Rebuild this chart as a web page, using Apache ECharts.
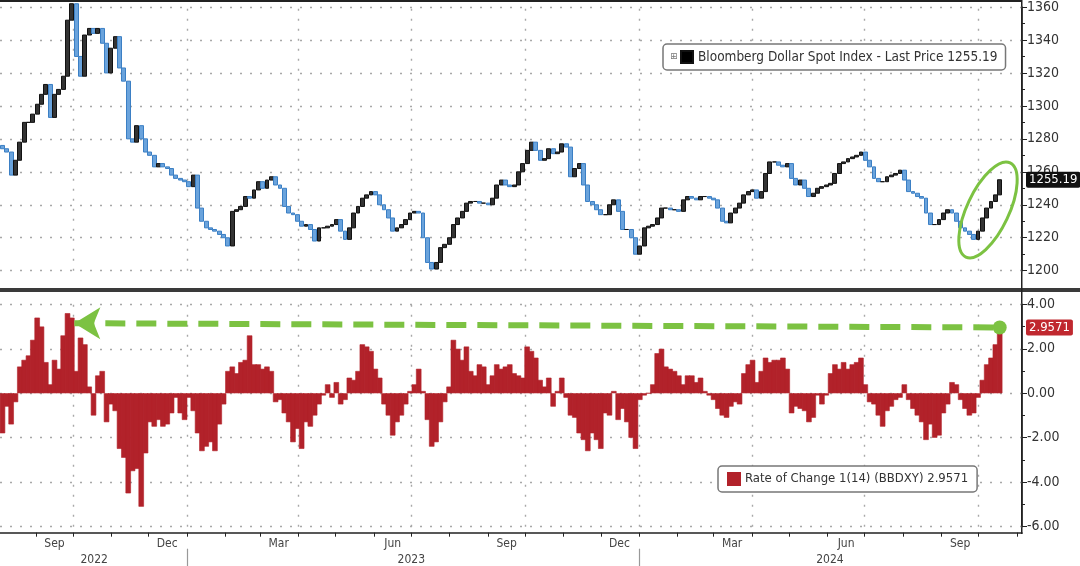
<!DOCTYPE html>
<html>
<head>
<meta charset="utf-8">
<title>Bloomberg Dollar Spot Index</title>
<script src="https://cdn.jsdelivr.net/npm/echarts@6/dist/echarts.min.js"></script>
<style>
  html, body { margin: 0; padding: 0; background: #fff; }
  #chart { width: 1080px; height: 566px; }
</style>
</head>
<body>
<div id="chart"></div>
<script>
// sampled twice a week (every 3.5 days), starting Fri 2022-08-05
const firstDate = '2022-08-05';
const stepDays = 3.5;
const axisStart = '2022-08-03';
const axisEnd = '2024-11-05';

const priceName = 'Bloomberg Dollar Spot Index - Last Price 1255.19';
const rocName = 'Rate of Change 1(14) (BBDXY) 2.9571';
const lastPrice = 1255.19;
const lastRoc = 2.9571;

const dxyClose = [
  1274, 1272, 1258, 1267, 1278, 1290, 1290, 1295, 1301, 1307,
  1313, 1293, 1307, 1310, 1318, 1352, 1362, 1330, 1318, 1343,
  1347, 1344, 1347, 1338, 1320, 1335, 1342, 1323, 1315, 1280,
  1278, 1288, 1280, 1272, 1270, 1263, 1265, 1263, 1262, 1258,
  1256, 1255, 1254, 1251, 1258, 1238, 1230, 1226, 1225, 1224,
  1222, 1220, 1215, 1236, 1237, 1239, 1245, 1244, 1249, 1254,
  1250, 1255, 1257, 1252, 1250, 1239, 1235, 1234, 1230, 1227,
  1228, 1225, 1218, 1226, 1226, 1227, 1228, 1231, 1224, 1219,
  1226, 1235, 1239, 1244, 1246, 1248, 1246, 1240, 1237, 1232,
  1224, 1226, 1228, 1231, 1235, 1236, 1235, 1220, 1205, 1201,
  1205, 1214, 1216, 1220, 1228, 1232, 1236, 1241, 1242, 1242,
  1241, 1241, 1240, 1244, 1252, 1255, 1252, 1251, 1252, 1260,
  1265, 1273, 1278, 1273, 1267, 1268, 1274, 1271, 1272, 1277,
  1275, 1257, 1262, 1265, 1252, 1242, 1240, 1237, 1234, 1234,
  1240, 1243, 1236, 1225, 1225, 1220, 1210, 1215, 1226, 1227,
  1228, 1232, 1238, 1238, 1237, 1237, 1236, 1243, 1245, 1244,
  1243, 1245, 1245, 1244, 1243, 1238, 1230, 1229, 1235, 1238,
  1241, 1246, 1248, 1249, 1244, 1248, 1259, 1266, 1266, 1264,
  1263, 1265, 1256, 1252, 1255, 1250, 1245, 1247, 1250, 1251,
  1252, 1253, 1259, 1265, 1266, 1268, 1269, 1270, 1272, 1267,
  1263, 1256, 1254, 1254, 1257, 1258, 1259, 1261, 1255, 1248,
  1247, 1245, 1244, 1235, 1228, 1228, 1231, 1235, 1237, 1235,
  1230, 1226, 1224, 1222, 1219, 1224, 1232, 1238, 1242, 1246,
  1255.19
];

const rocValues = [
  -1.8, -0.6, -1.4, -0.4, 1.2, 1.5, 1.7, 2.4, 3.4, 3.0,
  1.4, 0.4, 1.5, 1.1, 2.6, 3.6, 3.4, 1.0, 2.5, 2.2,
  0.3, -1.0, 0.8, 1.0, -1.3, -0.5, -0.8, -2.5, -2.9, -4.5,
  -3.5, -3.4, -5.1, -2.7, -1.3, -1.5, -1.2, -1.5, -1.4, -0.9,
  -0.2, -0.9, -1.2, -0.2, -0.8, -1.8, -2.6, -2.4, -2.2, -2.6,
  -1.4, -0.5, 1.0, 1.2, 0.9, 1.4, 1.5, 2.6, 1.3, 1.3,
  1.1, 1.2, 1.0, -0.4, -0.3, -0.9, -1.3, -2.2, -1.6, -2.5,
  -1.3, -1.5, -1.0, -0.5, -0.1, 0.4, -0.2, 0.5, -0.5, -0.3,
  0.7, 0.6, 1.0, 2.2, 2.1, 1.9, 1.1, 0.7, -0.5, -1.0,
  -1.9, -1.3, -1.0, -0.5, 0.1, 0.4, 1.1, 0.1, -1.2, -2.4,
  -2.2, -1.3, -0.4, 0.3, 2.4, 2.0, 1.5, 2.1, 1.0, 0.8,
  1.3, 1.2, 0.4, 0.8, 1.3, 1.1, 1.2, 1.3, 0.9, 0.8,
  0.7, 2.1, 1.9, 1.6, 0.6, 0.3, 0.7, -0.6, 0.1, 0.7,
  -0.2, -1.0, -1.1, -1.8, -2.1, -2.6, -1.8, -2.1, -2.5, -0.9,
  -1.0, 0.1, -1.2, -0.7, -1.3, -2.0, -2.5, -0.3, -0.1, 0.0,
  0.4, 1.8, 2.0, 1.2, 1.1, 1.0, 0.8, 0.4, 0.8, 0.8,
  0.5, 0.7, 0.1, -0.1, -0.3, -0.7, -1.0, -1.1, -0.6, -0.4,
  -0.5, 0.9, 1.3, 1.5, 0.5, 1.0, 1.6, 1.4, 1.5, 1.5,
  1.6, 1.1, -0.9, -0.6, -0.7, -0.8, -1.3, -1.1, -0.1, -0.5,
  -0.1, 0.9, 1.3, 1.1, 1.4, 1.1, 1.3, 1.4, 1.6, 0.4,
  -0.4, -0.5, -1.0, -1.5, -0.8, -0.6, -0.3, -0.2, 0.4, -0.3,
  -0.7, -1.0, -1.3, -2.1, -1.4, -2.0, -1.9, -0.9, -0.5, 0.5,
  0.4, -0.3, -0.7, -1.0, -0.9, -0.2, 0.6, 1.3, 1.6, 2.2,
  2.9571
];

const quarterStarts = ['2022-10-01', '2023-01-01', '2023-04-01', '2023-07-01', '2023-10-01',
                       '2024-01-01', '2024-04-01', '2024-07-01', '2024-10-01'];
const monthLabelDates = ['2022-09-16', '2022-12-16', '2023-03-16', '2023-06-16', '2023-09-16',
                         '2023-12-16', '2024-03-16', '2024-06-16', '2024-09-16'];
const monthNames = ['Jan', 'Feb', 'Mar', 'Apr', 'May', 'Jun', 'Jul', 'Aug', 'Sep', 'Oct', 'Nov', 'Dec'];
const yearLabelDates = ['2022-10-18', '2023-07-01', '2024-06-03'];
const yearBreaks = ['2023-01-01', '2024-01-01'];

// green arrow: from the Sep-2022 peak to today
const arrowFrom = ['2022-10-02', 3.15];

function toTime(s) {
  let p = s.split('-').map(Number);
  return new Date(p[0], p[1] - 1, p[2]).getTime();
}

const DAY = 86400000;
let dates = dxyClose.map((v, i) => toTime(firstDate) + i * stepDays * DAY);
const lastTime = dates[dates.length - 1];

let candles = [];
for (let i = 0; i < dxyClose.length; i++) {
  let o = i === 0 ? 1276 : dxyClose[i - 1];
  let c = dxyClose[i];
  candles.push([dates[i], o, c, Math.min(o, c), Math.max(o, c)]);
}
let rocData = rocValues.map((v, i) => [dates[i], v]);

let monthStarts = [];
for (let m = new Date(2022, 8, 1); m <= new Date(2024, 10, 1); m = new Date(m.getFullYear(), m.getMonth() + 1, 1)) {
  monthStarts.push(m.getTime());
}

const FONT = '"Liberation Sans Narrow", "DejaVu Sans Condensed", "Liberation Sans", sans-serif';
const dotted = { color: '#a8a8a8', width: 1.4, type: [2, 8] };
const xMin = toTime(axisStart), xMax = toTime(axisEnd);
const hidden = { color: 'rgba(0,0,0,0)', width: 0 };
const barRed = '#b2222a';

let chart = echarts.init(document.getElementById('chart'));

let option = {
  animation: false,
  backgroundColor: '#fff',
  textStyle: { fontFamily: FONT },
  grid: [
    { left: 0, right: 58, top: 4, height: 266.7 },
    { left: 0, right: 58, top: 304.3, height: 222.4 }
  ],
  legend: [
    {
      data: [{ name: priceName, icon: 'rect', itemStyle: { color: '#000' } }],
      left: 663, top: 44,
      itemWidth: 12, itemHeight: 12,
      padding: [6, 8, 6, 17],
      backgroundColor: '#fff',
      borderColor: '#777', borderWidth: 1.5, borderRadius: 4,
      textStyle: { color: '#333', fontSize: 13.5, fontFamily: FONT }
    },
    {
      data: [{ name: rocName, icon: 'rect' }],
      left: 718, top: 466,
      itemWidth: 12, itemHeight: 12,
      padding: [6, 9],
      backgroundColor: '#fff',
      borderColor: '#777', borderWidth: 1.5, borderRadius: 4,
      textStyle: { color: '#333', fontSize: 13, fontFamily: FONT }
    }
  ],
  xAxis: [
    {
      gridIndex: 0, type: 'value', min: xMin, max: xMax, position: 'bottom',
      axisLine: { show: false }, axisTick: { show: false },
      axisLabel: { show: false }, splitLine: { show: false }
    },
    {
      gridIndex: 1, type: 'value', min: xMin, max: xMax, position: 'bottom',
      offset: 6,
      axisLine: { onZero: false, lineStyle: { color: '#222', width: 1.5 } },
      axisTick: { customValues: monthStarts, length: 4, lineStyle: { color: '#222' } },
      axisLabel: {
        customValues: monthLabelDates.map(toTime),
        formatter: v => monthNames[new Date(v).getMonth()],
        color: '#444', fontSize: 12, margin: 5, hideOverlap: false
      },
      splitLine: { show: false }
    },
    {
      gridIndex: 1, type: 'value', min: xMin, max: xMax, position: 'bottom',
      offset: 22,
      axisLine: { show: false, onZero: false },
      axisTick: { show: true, customValues: yearBreaks.map(toTime), length: 18, lineStyle: { color: '#999', width: 1.2 } },
      axisLabel: {
        customValues: yearLabelDates.map(toTime),
        formatter: v => String(new Date(v).getFullYear()),
        color: '#444', fontSize: 12, margin: 5, hideOverlap: false
      },
      splitLine: { show: false }
    }
  ],
  yAxis: [
    {
      gridIndex: 0, position: 'right', min: 1200, max: 1360, interval: 20,
      axisLine: { show: true, lineStyle: { color: '#222', width: 1.5 } },
      axisTick: { show: true, length: 5, lineStyle: { color: '#222' } },
      minorTick: { show: true, splitNumber: 2, length: 3, lineStyle: { color: '#222' } },
      axisLabel: { color: '#333', fontSize: 14, margin: 5, formatter: v => String(v) },
      splitLine: { show: true, lineStyle: dotted }
    },
    {
      gridIndex: 1, position: 'right', min: -6, max: 4, interval: 2,
      axisLine: { show: true, lineStyle: { color: '#222', width: 1.5 } },
      axisTick: { show: true, length: 5, lineStyle: { color: '#222' } },
      minorTick: { show: true, splitNumber: 2, length: 3, lineStyle: { color: '#222' } },
      axisLabel: { color: '#333', fontSize: 14, margin: 5, formatter: v => v.toFixed(2) },
      splitLine: { show: true, lineStyle: dotted }
    }
  ],
  series: [
    {
      // quarter gridlines, top panel (behind the candles)
      type: 'line', xAxisIndex: 0, yAxisIndex: 0, data: [], silent: true,
      markLine: {
        z: 1, symbol: 'none', silent: true, label: { show: false },
        lineStyle: dotted,
        data: quarterStarts.map(q => ({ xAxis: toTime(q) }))
      }
    },
    {
      type: 'line', xAxisIndex: 1, yAxisIndex: 1, data: [], silent: true,
      markLine: {
        z: 1, symbol: 'none', silent: true, label: { show: false },
        lineStyle: dotted,
        data: quarterStarts.map(q => ({ xAxis: toTime(q) }))
      }
    },
    {
      name: priceName,
      type: 'candlestick',
      xAxisIndex: 0, yAxisIndex: 0,
      data: candles,
      encode: { x: 0, y: [1, 2, 3, 4] },
      barWidth: 4.4,
      clip: false,
      itemStyle: {
        color: '#333', color0: '#6aa3dc',
        borderColor: '#111', borderColor0: '#3b7fc4', borderWidth: 1
      },
      markLine: {
        symbol: 'none', silent: true,
        data: [{
          yAxis: lastPrice,
          lineStyle: hidden,
          label: {
            show: true, position: 'end', distance: 4,
            formatter: String(lastPrice),
            color: '#fff', backgroundColor: '#111',
            padding: [2, 3, 1, 3], borderRadius: 2,
            fontSize: 13, fontFamily: FONT
          }
        }]
      }
    },
    {
      name: rocName,
      type: 'bar',
      xAxisIndex: 1, yAxisIndex: 1,
      data: rocData,
      barWidth: '100%',
      barMinWidth: 5.4,
      itemStyle: { color: barRed, borderColor: barRed, borderWidth: 0.6 },
      markLine: {
        symbol: 'none', silent: true,
        data: [
          [
            { coord: [toTime(arrowFrom[0]), arrowFrom[1]], symbol: 'arrow', symbolSize: [24, 26] },
            { coord: [lastTime, lastRoc], symbol: 'circle', symbolSize: 14 }
          ],
          {
            yAxis: lastRoc,
            lineStyle: hidden,
            label: {
              show: true, position: 'end', distance: 4,
              formatter: String(lastRoc),
              color: '#fff', backgroundColor: '#c0282f',
              padding: [2, 3, 1, 3], borderRadius: 2,
              fontSize: 13, fontFamily: FONT
            }
          }
        ],
        lineStyle: { color: '#7cc242', width: 6, type: [20, 11], opacity: 1 },
        label: { show: false }
      }
    }
  ],
  graphic: [
    { type: 'rect', shape: { x: 0, y: 0, width: 1022, height: 2 }, style: { fill: '#222' }, silent: true },
    { type: 'rect', shape: { x: 0, y: 288, width: 1080, height: 4 }, style: { fill: '#3a3a3a' }, silent: true },
    { type: 'rect', shape: { x: 1021, y: 0, width: 1.5, height: 534 }, style: { fill: '#222' }, silent: true },
    {
      type: 'text', x: 670, y: 52, z: 110, silent: true,
      style: { text: '\u229E', fill: '#777', font: '9px "DejaVu Sans"' }
    },
    {
      type: 'ellipse', x: 988, y: 210, rotation: -0.44,
      shape: { cx: 0, cy: 0, rx: 21, ry: 52 },
      style: { fill: 'none', stroke: '#7cc242', lineWidth: 3 },
      z: 100, silent: true
    }
  ]
};

chart.setOption(option);
</script>
</body>
</html>
